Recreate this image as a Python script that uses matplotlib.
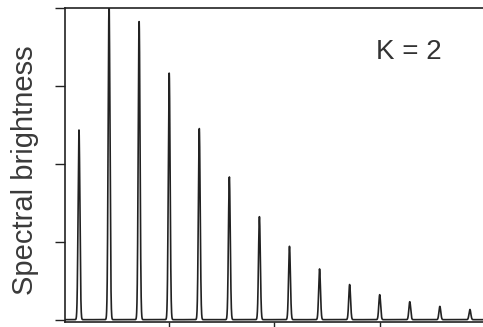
import numpy as np
import matplotlib
matplotlib.use("Agg")
import matplotlib.pyplot as plt

# Harmonic numbers and their spectral amplitudes
harmonics = [1, 2, 3, 4, 5, 6, 7, 8, 9, 10, 11, 12, 13, 14]
amplitudes = [2.43, 4.05, 3.82, 3.16, 2.45, 1.83, 1.32, 0.94, 0.65, 0.45, 0.32, 0.23, 0.17, 0.13]
x_ticks = [4.0, 7.5, 11.0]
y_ticks = [0, 1, 2, 3, 4]
label_text = "K = 2"
y_label = "Spectral brightness"

plt.rcParams['font.family'] = ['Liberation Sans', 'DejaVu Sans']

W, H = 483, 327
fig = plt.figure(figsize=(W / 100, H / 100), dpi=100)
left = 65 / W
bottom = (H - 322) / H
top = (H - 7.5) / H
right = 500 / W
ax = fig.add_axes([left, bottom, right - left, top - bottom])

# narrow spectral lines
x = np.linspace(0.5, 15.2, 6000)
sigma = 0.03
y = np.zeros_like(x)
for n, a in zip(harmonics, amplitudes):
    y += a * np.exp(-0.5 * ((x - n) / sigma) ** 2)
ax.plot(x, y, color='#222222', lw=1.2)

ax.set_xlim(0.535, 15.0)
ax.set_ylim(-0.03, 4.0)
ax.set_xticks(x_ticks)
ax.set_xticklabels([])
ax.set_yticks(y_ticks)
ax.set_yticklabels([])
ax.tick_params(axis='both', direction='out', length=7, width=1.0, color='#222222')
for s in ax.spines.values():
    s.set_linewidth(1.2)
    s.set_color('#222222')

fig.text(409 / W, 1 - 52 / H, label_text, fontsize=20, color='#333333',
         ha='center', va='center')
fig.text(25 / W, 1 - 170 / H, y_label, fontsize=21, color='#3a3a3a',
         rotation=90, ha='center', va='center')

fig.savefig("out.png", dpi=100)
